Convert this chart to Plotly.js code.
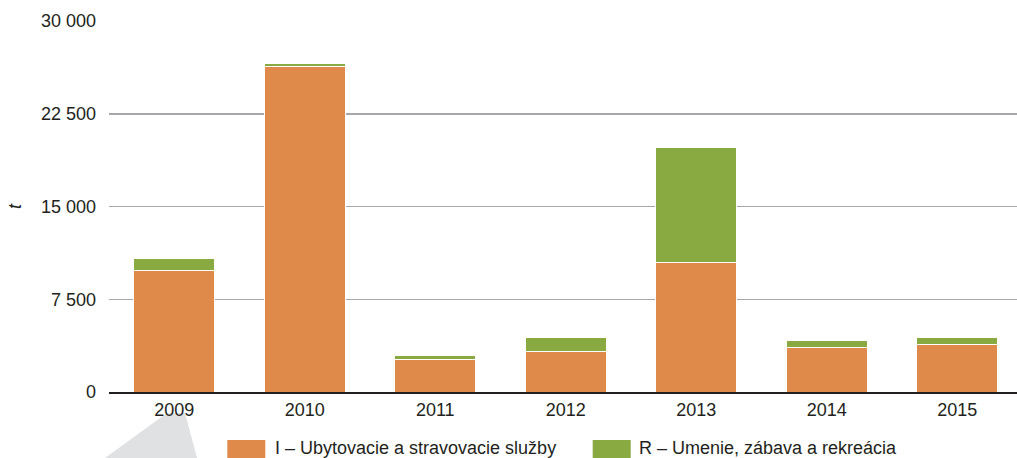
<!DOCTYPE html>
<html>
<head>
<meta charset="utf-8">
<script src="https://cdn.plot.ly/plotly-3.0.1.min.js"></script>
<style>html,body{margin:0;padding:0;background:#fff;}#chart{width:1017px;height:458px;}</style>
</head>
<body>
<div id="chart"></div>
<script>
// Data
var years = ['2009', '2010', '2011', '2012', '2013', '2014', '2015'];
var accommodation = [9800, 26300, 2640, 3260, 10480, 3610, 3850];
var arts = [980, 240, 350, 1130, 9320, 540, 540];
var seriesNames = ['I – Ubytovacie a stravovacie služby', 'R – Umenie, zábava a rekreácia'];
var seriesColors = ['#df894a', '#88aa41'];
var yTickVals = [0, 7500, 15000, 22500, 30000];
var yTickText = ['0', '7 500', '15 000', '22 500', '30 000'];
var yTitle = 't';

var textColor = '#231f20';
var fontFam = '"Liberation Sans", Arial, Helvetica, sans-serif';

var data = [
  {type: 'bar', x: years, y: accommodation, name: seriesNames[0],
   marker: {color: seriesColors[0], line: {color: '#ffffff', width: 1}}},
  {type: 'bar', x: years, y: arts, name: seriesNames[1],
   marker: {color: seriesColors[1], line: {color: '#ffffff', width: 1}}}
];

// Legend drawn as layout decorations (large swatches as in the reference)
var W = 908, H = 371, L = 109, B = 392;
function px(x) { return (x - L) / W; }
function py(y) { return (B - y) / H; }
var legendSwatchX = [227.3, 592.7];
var swatchW = 38, swatchTop = 440, swatchBottom = 458;
var legendTextX = [273.5, 637.5];
var legendTextY = 448;

var shapes = [{type: 'path', xref: 'paper', yref: 'paper', layer: 'below',
               path: 'M ' + px(105) + ' ' + py(458) + ' L ' + px(167) + ' ' + py(413) +
                     ' L ' + px(185) + ' ' + py(413) + ' L ' + px(197) + ' ' + py(458) + ' Z',
               fillcolor: '#e0e1e3', line: {width: 0}}];
var annotations = [];
for (var i = 0; i < seriesNames.length; i++) {
  shapes.push({type: 'rect', xref: 'paper', yref: 'paper', layer: 'above',
               x0: px(legendSwatchX[i]), x1: px(legendSwatchX[i] + swatchW),
               y0: py(swatchBottom), y1: py(swatchTop),
               fillcolor: seriesColors[i], line: {width: 0}});
  annotations.push({xref: 'paper', yref: 'paper', x: px(legendTextX[i]), y: py(legendTextY),
                    xanchor: 'left', yanchor: 'middle', showarrow: false, text: seriesNames[i],
                    font: {size: 18, color: textColor}, borderpad: 0});
}

var layout = {
  width: 1017, height: 458,
  margin: {l: 109, r: 0, t: 21, b: 66, pad: 0},
  paper_bgcolor: '#ffffff', plot_bgcolor: '#ffffff',
  font: {family: fontFam, size: 18, color: textColor},
  barmode: 'stack',
  bargap: 0.38,
  showlegend: false,
  xaxis: {type: 'category', range: [-0.5, 6.458], showgrid: false, showline: true,
          linecolor: textColor, linewidth: 2, ticks: '', zeroline: false,
          tickfont: {size: 18, color: textColor}, fixedrange: true},
  yaxis: {range: [0, 30000], tickvals: yTickVals, ticktext: yTickText, showgrid: true,
          gridcolor: '#a7a8ab', gridwidth: 1.5, zeroline: false, showline: false, ticks: '',
          ticklabelstandoff: 12, tickfont: {size: 18, color: textColor},
          title: {text: yTitle, font: {size: 18, color: textColor, style: 'italic'}, standoff: 14},
          fixedrange: true},
  shapes: shapes,
  annotations: annotations
};

Plotly.newPlot('chart', data, layout, {staticPlot: true, displayModeBar: false});
</script>
</body>
</html>
